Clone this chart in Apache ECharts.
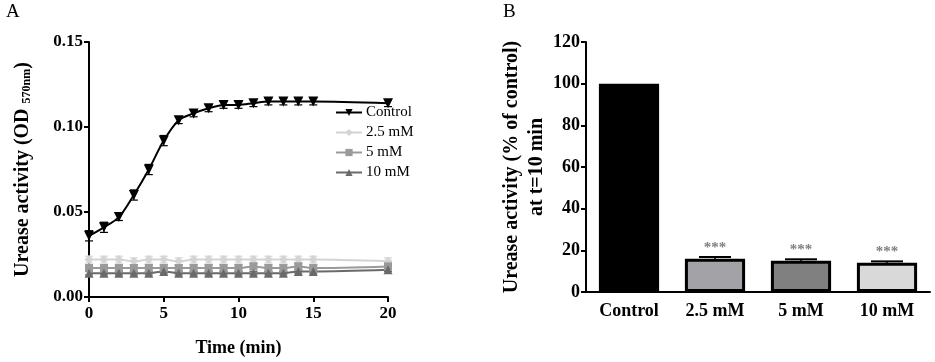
<!DOCTYPE html>
<html>
<head>
<meta charset="utf-8">
<script src="https://cdn.jsdelivr.net/npm/echarts@6/dist/echarts.min.js"></script>
<style>
  html, body { margin: 0; padding: 0; background: #fff; }
  #chart { width: 935px; height: 362px; }
</style>
</head>
<body>
<div id="chart"></div>
<script>
// panel A - time course
const times = [0, 1, 2, 3, 4, 5, 6, 7, 8, 9, 10, 11, 12, 13, 14, 15, 20]
const control = [0.036, 0.041, 0.047, 0.060, 0.075, 0.092, 0.104, 0.108, 0.111, 0.113, 0.113, 0.114, 0.115, 0.115, 0.115, 0.115, 0.114]
const controlErr = [0.003, 0.003, 0.002, 0.003, 0.003, 0.003, 0.002, 0.002, 0.002, 0.002, 0.002, 0.002, 0.002, 0.002, 0.002, 0.002, 0.002]
const mm25 = [0.022, 0.022, 0.022, 0.021, 0.022, 0.022, 0.021, 0.022, 0.022, 0.022, 0.022, 0.022, 0.022, 0.022, 0.022, 0.022, 0.021]
const mm25Err = [0.002, 0.002, 0.002, 0.002, 0.002, 0.002, 0.002, 0.002, 0.002, 0.002, 0.002, 0.002, 0.002, 0.002, 0.002, 0.002, 0.002]
const mm5 = [0.017, 0.017, 0.017, 0.017, 0.017, 0.017, 0.017, 0.017, 0.017, 0.017, 0.017, 0.018, 0.017, 0.017, 0.018, 0.017, 0.018]
const mm5Err = [0.002, 0.002, 0.002, 0.002, 0.002, 0.002, 0.002, 0.002, 0.002, 0.002, 0.002, 0.002, 0.002, 0.002, 0.002, 0.002, 0.002]
const mm10 = [0.014, 0.014, 0.014, 0.014, 0.014, 0.015, 0.014, 0.014, 0.014, 0.014, 0.014, 0.014, 0.014, 0.014, 0.015, 0.015, 0.016]
const mm10Err = [0.001, 0.001, 0.001, 0.001, 0.001, 0.001, 0.001, 0.001, 0.001, 0.001, 0.001, 0.001, 0.001, 0.001, 0.001, 0.001, 0.001]
const timeTicks = [0, 5, 10, 15, 20]
const odTicks = [0, 0.05, 0.10, 0.15]

// panel B - activity at t=10 min
const groups = ['Control', '2.5 mM', '5 mM', '10 mM']
const activity = [100, 16, 15, 14]
const activityErr = [0, 0.8, 0.7, 0.7]
const stars = ['', '***', '***', '***']
const pctTicks = [0, 20, 40, 60, 80, 100, 120]

const serif = 'Liberation Serif'
const lineColors = ['#000000', '#d4d4d4', '#9a9a9a', '#6a6a6a']
const barColors = ['#000000', '#a3a3a7', '#808080', '#d9d9d9']

function pairs (ys) {
  return times.map((t, i) => [t, ys[i]])
}

function errData (ys, es) {
  return times.map((t, i) => [t, ys[i] - es[i], ys[i] + es[i]])
}

function errSeries (ys, es, color) {
  return {
    type: 'custom',
    xAxisIndex: 0,
    yAxisIndex: 0,
    silent: true,
    z: 1,
    data: errData(ys, es),
    renderItem (params, api) {
      let lo = api.coord([api.value(0), api.value(1)])
      let hi = api.coord([api.value(0), api.value(2)])
      let w = 4
      let st = { stroke: color, lineWidth: 1.2 }
      return {
        type: 'group',
        children: [
          { type: 'line', shape: { x1: lo[0], y1: lo[1], x2: hi[0], y2: hi[1] }, style: st },
          { type: 'line', shape: { x1: lo[0] - w, y1: lo[1], x2: lo[0] + w, y2: lo[1] }, style: st },
          { type: 'line', shape: { x1: hi[0] - w, y1: hi[1], x2: hi[0] + w, y2: hi[1] }, style: st }
        ]
      }
    }
  }
}

function lineSeries (name, ys, color, symbol, size) {
  return {
    name: name,
    type: 'line',
    xAxisIndex: 0,
    yAxisIndex: 0,
    smooth: 0.3,
    data: pairs(ys),
    symbol: symbol,
    symbolSize: size,
    showAllSymbol: true,
    z: 3,
    itemStyle: { color: color },
    lineStyle: { color: color, width: 2 }
  }
}

const downTri = 'path://M0,0 L10,0 L5,9 Z'

let chart = echarts.init(document.getElementById('chart'))

let option = {
  animation: false,
  backgroundColor: '#fff',
  textStyle: { fontFamily: serif },
  graphic: [
    { type: 'text', left: 6, top: 3, style: { text: 'A', font: '19px "Liberation Serif"', fill: '#000' } },
    { type: 'text', left: 503, top: 3, style: { text: 'B', font: '19px "Liberation Serif"', fill: '#000' } }
  ],
  legend: {
    data: ['Control', '2.5 mM', '5 mM', '10 mM'],
    orient: 'vertical',
    left: 330,
    top: 100,
    itemWidth: 26,
    itemHeight: 9,
    itemGap: 5,
    textStyle: { fontFamily: serif, fontSize: 15, color: '#000', padding: [0, 0, 0, -1] }
  },
  grid: [
    { left: 89, top: 42, width: 299, height: 256 },
    { left: 586, top: 42, width: 344, height: 250 }
  ],
  xAxis: [
    {
      gridIndex: 0,
      type: 'value',
      min: 0,
      max: 20,
      interval: 5,
      name: 'Time (min)',
      nameLocation: 'middle',
      nameGap: 42,
      nameTextStyle: { fontFamily: serif, fontWeight: 'bold', fontSize: 18, color: '#000' },
      axisLine: { lineStyle: { color: '#000', width: 2 } },
      axisTick: { lineStyle: { color: '#000', width: 2 }, length: 5 },
      axisLabel: {
        fontFamily: serif, fontWeight: 'bold', fontSize: 17, color: '#000', margin: 8,
        formatter: v => timeTicks.includes(v) ? String(v) : ''
      },
      splitLine: { show: false }
    },
    {
      gridIndex: 1,
      type: 'category',
      data: groups,
      axisLine: { lineStyle: { color: '#000', width: 2 } },
      axisTick: { alignWithLabel: true, lineStyle: { color: '#000', width: 2 }, length: 5 },
      axisLabel: { fontFamily: serif, fontWeight: 'bold', fontSize: 18, color: '#000', margin: 10 }
    }
  ],
  yAxis: [
    {
      gridIndex: 0,
      type: 'value',
      min: 0,
      max: 0.15,
      interval: 0.05,
      name: 'Urease activity (OD {sub|570nm})',
      nameLocation: 'middle',
      nameGap: 56,
      nameTextStyle: {
        fontFamily: serif, fontWeight: 'bold', fontSize: 20, color: '#000',
        rich: { sub: { fontFamily: serif, fontWeight: 'bold', fontSize: 12, color: '#000', padding: [8, 0, 0, 0] } }
      },
      axisLine: { show: true, lineStyle: { color: '#000', width: 2 } },
      axisTick: { show: true, lineStyle: { color: '#000', width: 2 }, length: 5 },
      axisLabel: {
        fontFamily: serif, fontWeight: 'bold', fontSize: 17, color: '#000', margin: 6,
        formatter: v => odTicks.some(t => Math.abs(t - v) < 1e-9) ? v.toFixed(2) : ''
      },
      splitLine: { show: false }
    },
    {
      gridIndex: 1,
      type: 'value',
      min: 0,
      max: 120,
      interval: 20,
      name: 'Urease activity (% of control)\nat t=10 min',
      nameLocation: 'middle',
      nameGap: 37,
      nameTextStyle: { fontFamily: serif, fontWeight: 'bold', fontSize: 20, color: '#000', lineHeight: 25 },
      axisLine: { show: true, lineStyle: { color: '#000', width: 2 } },
      axisTick: { show: true, lineStyle: { color: '#000', width: 2 }, length: 5 },
      axisLabel: {
        fontFamily: serif, fontWeight: 'bold', fontSize: 18, color: '#000', margin: 6,
        formatter: v => pctTicks.includes(v) ? String(v) : ''
      },
      splitLine: { show: false }
    }
  ],
  series: [
    errSeries(mm25, mm25Err, lineColors[1]),
    errSeries(mm5, mm5Err, lineColors[2]),
    errSeries(mm10, mm10Err, lineColors[3]),
    errSeries(control, controlErr, lineColors[0]),
    lineSeries('2.5 mM', mm25, lineColors[1], 'diamond', 9),
    lineSeries('5 mM', mm5, lineColors[2], 'rect', 8),
    lineSeries('10 mM', mm10, lineColors[3], 'triangle', 9),
    lineSeries('Control', control, lineColors[0], downTri, 10),
    {
      type: 'bar',
      xAxisIndex: 1,
      yAxisIndex: 1,
      barWidth: '70%',
      data: activity.map((v, i) => ({
        value: v,
        itemStyle: {
          color: barColors[i],
          borderColor: '#000',
          borderWidth: i === 0 ? 0 : 3
        },
        label: {
          show: stars[i] !== '',
          formatter: stars[i],
          position: 'top',
          distance: 3,
          color: '#808080',
          fontSize: 15,
          fontWeight: 'bold'
        }
      }))
    },
    {
      type: 'custom',
      xAxisIndex: 1,
      yAxisIndex: 1,
      silent: true,
      z: 3,
      data: activity.map((v, i) => [i, v, v + activityErr[i]]),
      renderItem (params, api) {
        let lo = api.coord([api.value(0), api.value(1)])
        let hi = api.coord([api.value(0), api.value(2)])
        if (hi[1] === lo[1]) return null
        let st = { stroke: '#000', lineWidth: 2 }
        return {
          type: 'group',
          children: [
            { type: 'line', shape: { x1: lo[0], y1: lo[1], x2: hi[0], y2: hi[1] }, style: st },
            { type: 'line', shape: { x1: hi[0] - 16, y1: hi[1], x2: hi[0] + 16, y2: hi[1] }, style: st }
          ]
        }
      }
    }
  ]
}

chart.setOption(option)
</script>
</body>
</html>
